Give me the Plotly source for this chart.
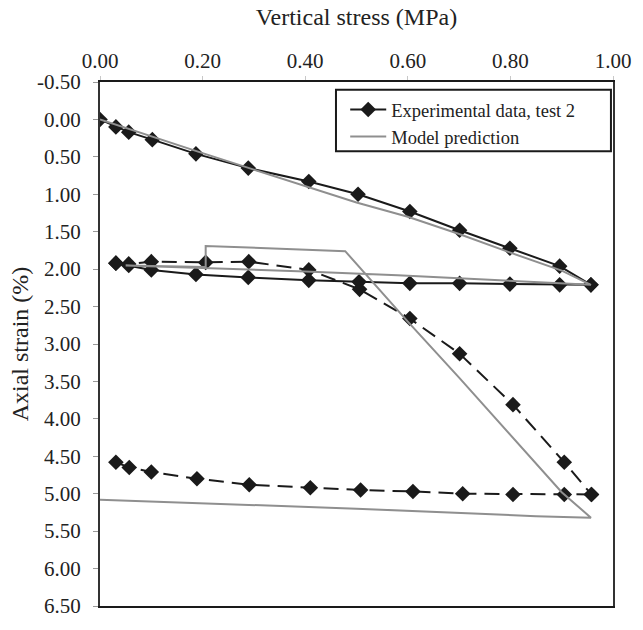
import plotly.graph_objects as go

# ---- Experimental data, test 2 ----
load_stress = [0.000, 0.031, 0.056, 0.102, 0.187, 0.289, 0.407, 0.503, 0.604, 0.701, 0.799, 0.896, 0.957]
load_strain = [0.00, 0.10, 0.17, 0.27, 0.46, 0.65, 0.83, 1.00, 1.23, 1.48, 1.72, 1.96, 2.21]
unl1_stress = [0.957, 0.896, 0.799, 0.701, 0.604, 0.505, 0.407, 0.289, 0.187, 0.100, 0.056, 0.031]
unl1_strain = [2.21, 2.21, 2.20, 2.19, 2.19, 2.17, 2.15, 2.11, 2.07, 2.01, 1.95, 1.92]
rel_stress = [0.031, 0.056, 0.100, 0.206, 0.290, 0.407, 0.506, 0.604, 0.701, 0.805, 0.905, 0.958]
rel_strain = [1.92, 1.93, 1.90, 1.91, 1.90, 2.01, 2.27, 2.66, 3.13, 3.81, 4.58, 5.01]
unl2_stress = [0.958, 0.905, 0.805, 0.707, 0.610, 0.508, 0.410, 0.291, 0.189, 0.100, 0.057, 0.031]
unl2_strain = [5.01, 5.01, 5.01, 5.00, 4.97, 4.95, 4.92, 4.88, 4.80, 4.71, 4.65, 4.58]

# ---- Model prediction ----
model_stress = [0.0, 0.1, 0.2, 0.3, 0.4, 0.5, 0.6, 0.7, 0.8, 0.9, 0.957,
                0.75, 0.58, 0.40, 0.27, 0.10, 0.05, 0.206, 0.206, 0.478,
                0.55, 0.60, 0.70, 0.80, 0.90, 0.957, 0.85, 0.50, 0.0]
model_strain = [0.00, 0.23, 0.45, 0.67, 0.89, 1.11, 1.30, 1.53, 1.78, 2.02, 2.21,
                2.14, 2.08, 2.03, 2.00, 1.96, 1.95, 1.97, 1.69, 1.76,
                2.32, 2.70, 3.45, 4.22, 4.98, 5.32, 5.30, 5.20, 5.08]

x_ticks = [0.0, 0.2, 0.4, 0.6, 0.8, 1.0]
x_ticktext = ["0.00", "0.20", "0.40", "0.60", "0.80", "1.00"]
y_ticks = [-0.5, 0.0, 0.5, 1.0, 1.5, 2.0, 2.5, 3.0, 3.5, 4.0, 4.5, 5.0, 5.5, 6.0, 6.5]
y_ticktext = ["-0.50", "0.00", "0.50", "1.00", "1.50", "2.00", "2.50", "3.00",
              "3.50", "4.00", "4.50", "5.00", "5.50", "6.00", "6.50"]

BLACK = "#1a1a1a"
GRAY = "#8f8f8f"
FONT = "Liberation Serif, Times New Roman, serif"

fig = go.Figure()

exp_segments = [
    (load_stress, load_strain, "solid", True),
    (unl1_stress, unl1_strain, "solid", False),
    (rel_stress, rel_strain, "dash", False),
    (unl2_stress, unl2_strain, "dash", False),
]
for xs, ys, dash, show in exp_segments:
    fig.add_trace(go.Scatter(
        x=xs, y=ys, mode="lines+markers",
        name="Experimental data, test 2",
        legendgroup="exp", showlegend=show,
        line=dict(color=BLACK, width=2, dash="15px,8px" if dash == "dash" else "solid"),
        marker=dict(symbol="diamond", size=12, color=BLACK),
    ))

fig.add_trace(go.Scatter(
    x=model_stress, y=model_strain, mode="lines",
    name="Model prediction",
    line=dict(color=GRAY, width=2),
))

fig.add_shape(type="rect", xref="paper", yref="paper",
              x0=0.460, x1=0.996, y0=0.868, y1=0.985,
              line=dict(color=BLACK, width=2), fillcolor="white", layer="above")

fig.update_layout(
    width=643, height=630,
    margin=dict(l=100, r=28, t=82, b=16),
    paper_bgcolor="white", plot_bgcolor="white",
    font=dict(family=FONT, size=21, color="#222222"),
    showlegend=True,
    legend=dict(
        x=0.478, y=0.983, xanchor="left", yanchor="top",
        bgcolor="rgba(0,0,0,0)", borderwidth=0,
        font=dict(family=FONT, size=18.5, color="#222222"),
        tracegroupgap=0, itemwidth=36,
    ),
    xaxis=dict(
        side="top", range=[0, 1.0], tickvals=x_ticks, ticktext=x_ticktext,
        showgrid=False, zeroline=False,
        showline=True, linecolor=BLACK, linewidth=2, mirror=True,
        ticks="outside", ticklen=4, tickcolor="#c8c8c8",
        title=dict(text="Vertical stress (MPa)", font=dict(size=24), standoff=16),
        tickfont=dict(size=21),
    ),
    yaxis=dict(
        range=[6.5, -0.5], tickvals=y_ticks, ticktext=y_ticktext,
        showgrid=False, zeroline=False,
        showline=True, linecolor="#333333", linewidth=2, mirror=True,
        ticks="outside", ticklen=5, tickcolor="#999999",
        ticklabelstandoff=8,
        title=dict(text="Axial strain (%)", font=dict(size=24), standoff=2),
        tickfont=dict(size=21),
    ),
)

fig.write_html(
    "out.html", config={"displayModeBar": False},
    post_script=(
        "document.documentElement.style.margin='0';"
        "document.documentElement.style.overflow='hidden';"
        "document.body.style.margin='0';"
        "document.body.style.overflow='hidden';"
    ),
)
